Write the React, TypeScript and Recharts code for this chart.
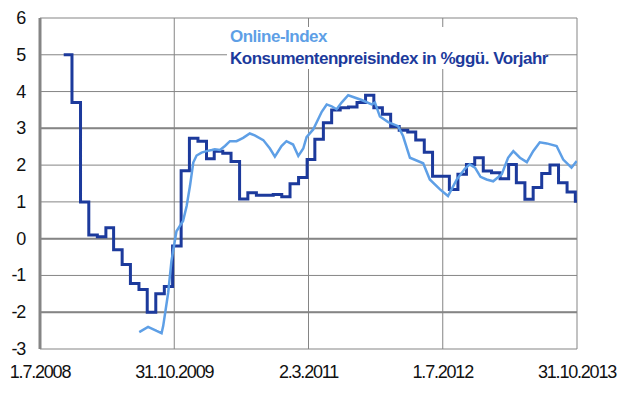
import React from 'react';
import { LineChart, Line, XAxis, YAxis, CartesianGrid, ReferenceLine } from 'recharts';

// x axis runs in days since 1.7.2008
const X_TICK_DATES = ['2008-07-01', '2009-10-31', '2011-03-02', '2012-07-01', '2013-10-31'];
const Y_TICKS = [-3, -2, -1, 0, 1, 2, 3, 4, 5, 6];
const HEAVY_LINES = [3, 0, -2];

// CPI, % vs. previous year, one value per month from Sep 2008
const CPI_FIRST_YEAR = 2008;
const CPI_FIRST_MONTH = 9;
const CPI_VALUES = [
  5.0, 3.7, 1.0, 0.1, 0.05, 0.3, -0.3, -0.7, -1.22, -1.38,
  -2.0, -1.5, -1.3, -0.2, 1.85, 2.73, 2.65, 2.17, 2.38, 2.32,
  2.1, 1.08, 1.25, 1.18, 1.18, 1.2, 1.14, 1.49, 1.66, 2.15,
  2.7, 3.15, 3.5, 3.56, 3.58, 3.7, 3.9, 3.56, 3.38, 3.05,
  2.95, 2.9, 2.68, 2.35, 1.7, 1.7, 1.34, 1.75, 2.02, 2.2,
  1.84, 1.79, 1.63, 2.02, 1.52, 1.07, 1.39, 1.77, 2.0, 1.52,
  1.27, 1.02,
];

const ONLINE_DATES = [
  '2009-06-26', '2009-07-28', '2009-08-28', '2009-09-15', '2009-09-21', '2009-10-09',
  '2009-10-21', '2009-11-08', '2009-12-02', '2009-12-15', '2009-12-27', '2010-01-08',
  '2010-01-20', '2010-02-07', '2010-02-25', '2010-03-16', '2010-03-27', '2010-04-15',
  '2010-05-03', '2010-05-21', '2010-06-14', '2010-07-08', '2010-08-01', '2010-08-19',
  '2010-09-19', '2010-10-13', '2010-10-31', '2010-11-24', '2010-12-12', '2011-01-05',
  '2011-01-24', '2011-02-11', '2011-02-23', '2011-03-19', '2011-04-19', '2011-05-07',
  '2011-05-25', '2011-06-12', '2011-06-30', '2011-07-24', '2011-09-11', '2011-10-17',
  '2011-10-29', '2011-11-16', '2011-12-16', '2012-01-21', '2012-02-08', '2012-03-04',
  '2012-04-21', '2012-05-15', '2012-06-21', '2012-07-20', '2012-08-21', '2012-09-19',
  '2012-10-07', '2012-10-26', '2012-11-15', '2012-12-07', '2012-12-31', '2013-01-31',
  '2013-02-23', '2013-03-14', '2013-04-07', '2013-05-02', '2013-05-25', '2013-06-18',
  '2013-07-13', '2013-08-18', '2013-09-11', '2013-10-11', '2013-10-30',
];
const ONLINE_VALUES = [
  -2.54, -2.4, -2.51, -2.57, -2.37, -1.47,
  -0.6, 0.2, 0.48, 0.89, 1.43, 2.07,
  2.26, 2.34, 2.38, 2.41, 2.43, 2.41,
  2.52, 2.65, 2.65, 2.74, 2.86, 2.81,
  2.68, 2.45, 2.23, 2.52, 2.65, 2.56,
  2.25, 2.45, 2.76, 2.97, 3.45, 3.65,
  3.6, 3.52, 3.7, 3.9, 3.77, 3.65,
  3.7, 3.32, 3.17, 3.06, 2.79, 2.2,
  2.05, 1.61, 1.34, 1.16, 1.61, 1.9,
  2.02, 1.93, 1.68, 1.61, 1.56, 1.75,
  2.2, 2.38, 2.2, 2.08, 2.38, 2.62,
  2.59, 2.52, 2.15, 1.93, 2.11,
];

const ONLINE_COLOR = '#5e9fe6';
const CPI_COLOR = '#1c3a9c';
const GRID = '#858585';
const FONT = '"Liberation Sans", Arial, sans-serif';

const ORIGIN = Date.UTC(2008, 6, 1);
const DAY_MS = 86400000;
const dayOf = (y: number, m: number, d: number) => Math.round((Date.UTC(y, m - 1, d) - ORIGIN) / DAY_MS);
const parseIso = (iso: string) => iso.split('-').map(Number);
const isoDay = (iso: string) => {
  const [y, m, d] = parseIso(iso);
  return dayOf(y, m, d);
};

const xTicks = X_TICK_DATES.map(isoDay);
const xLabel: Record<number, string> = {};
X_TICK_DATES.forEach((iso) => {
  const [y, m, d] = parseIso(iso);
  xLabel[isoDay(iso)] = `${d}.${m}.${y}`;
});
const xEnd = xTicks[xTicks.length - 1];

// monthly CPI steps start around the 25th of each month
const cpiData = CPI_VALUES.map((v, i) => ({
  day: dayOf(CPI_FIRST_YEAR, CPI_FIRST_MONTH + i, 25),
  v,
}));
cpiData.push({ day: xEnd, v: CPI_VALUES[CPI_VALUES.length - 1] });

const onlineData = ONLINE_DATES.map((iso, i) => ({ day: isoDay(iso), v: ONLINE_VALUES[i] }));

const tickStyle = { fontFamily: FONT, fontSize: 18, fill: '#111', letterSpacing: -1.2 };
const legendStyle = { fontFamily: FONT, fontSize: 17, fontWeight: 'bold', letterSpacing: -0.5 };

function YTick({ x, y, payload }: any) {
  return (
    <text x={x} y={y} dy={6} textAnchor="end" style={tickStyle}>
      {payload.value}
    </text>
  );
}

function XTick({ x, y, payload }: any) {
  return (
    <text x={x} y={y} dy={29} textAnchor="middle" style={tickStyle}>
      {xLabel[payload.value]}
    </text>
  );
}

export default function App() {
  return (
    <div style={{ position: 'absolute', left: 0, top: 0, width: 625, height: 393, background: '#fff' }}>
      <LineChart width={625} height={393} margin={{ top: 18, right: 48, bottom: 0, left: 0 }}>
        <CartesianGrid stroke={GRID} strokeWidth={1} />
        <XAxis
          type="number"
          dataKey="day"
          domain={[0, xEnd]}
          ticks={xTicks}
          tick={<XTick />}
          tickSize={0}
          tickMargin={0}
          axisLine={false}
          height={44}
          allowDataOverflow
        />
        <YAxis
          type="number"
          domain={[-3, 6]}
          ticks={Y_TICKS}
          tick={<YTick />}
          tickSize={0}
          tickMargin={15}
          width={40}
          axisLine={{ stroke: GRID, strokeWidth: 3 }}
          tickLine={false}
        />
        {HEAVY_LINES.map((v) => (
          <ReferenceLine key={v} y={v} stroke={GRID} strokeWidth={2} />
        ))}
        <Line
          data={cpiData}
          dataKey="v"
          type="stepAfter"
          stroke={CPI_COLOR}
          strokeWidth={3}
          dot={false}
          isAnimationActive={false}
        />
        <Line
          data={onlineData}
          dataKey="v"
          type="linear"
          stroke={ONLINE_COLOR}
          strokeWidth={2.5}
          dot={false}
          isAnimationActive={false}
        />
      </LineChart>
      <svg
        width={625}
        height={393}
        style={{ position: 'absolute', left: 0, top: 0, pointerEvents: 'none' }}
      >
        <rect x={227} y={27} width={318} height={42} fill="#fff" />
        <text x={230} y={42} style={{ ...legendStyle, fill: ONLINE_COLOR }}>
          Online-Index
        </text>
        <text x={230} y={64} style={{ ...legendStyle, fill: CPI_COLOR }}>
          Konsumentenpreisindex in %ggü. Vorjahr
        </text>
      </svg>
    </div>
  );
}
